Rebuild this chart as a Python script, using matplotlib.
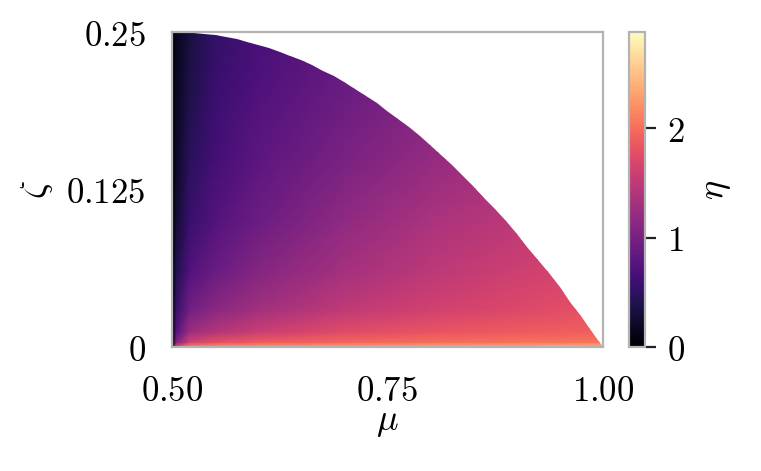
import numpy as np
import matplotlib
matplotlib.use("Agg")
import matplotlib.pyplot as plt
from matplotlib.patches import Polygon

plt.rcParams['mathtext.fontset'] = 'cm'
plt.rcParams['font.family'] = 'serif'
plt.rcParams['font.serif'] = ['DejaVu Serif']

# grid of eta values
mu = [0.5, 0.505, 0.52, 0.55, 0.6, 0.7, 0.8, 0.9, 1.0]
zeta = [0.0, 0.001, 0.004, 0.012, 0.03, 0.06, 0.1, 0.15, 0.2, 0.25]
eta = [
    [2.30, 2.35, 2.40, 2.40, 2.42, 2.45, 2.48, 2.52, 2.56],
    [0.00, 1.60, 2.05, 2.15, 2.20, 2.25, 2.30, 2.33, 2.36],
    [0.00, 1.05, 1.60, 1.78, 1.88, 1.95, 2.00, 2.02, 2.05],
    [0.00, 0.75, 1.25, 1.42, 1.58, 1.75, 1.83, 1.88, 1.92],
    [0.00, 0.55, 0.95, 1.13, 1.30, 1.50, 1.63, 1.72, 1.80],
    [0.00, 0.40, 0.72, 0.90, 1.10, 1.32, 1.48, 1.60, 1.68],
    [0.00, 0.28, 0.56, 0.75, 0.92, 1.17, 1.35, 1.48, 1.56],
    [0.00, 0.21, 0.45, 0.64, 0.80, 1.02, 1.20, 1.33, 1.42],
    [0.00, 0.17, 0.38, 0.58, 0.72, 0.92, 1.08, 1.20, 1.30],
    [0.00, 0.15, 0.33, 0.52, 0.66, 0.84, 1.00, 1.10, 1.20],
]
eta_max = 2.88

# upper edge of the filled region
edge_mu = [0.5, 0.5125, 0.525, 0.5375, 0.55, 0.5625, 0.575, 0.5875, 0.6, 0.6125,
           0.625, 0.6375, 0.65, 0.6625, 0.675, 0.6875, 0.7, 0.7125, 0.725, 0.7375,
           0.75, 0.7625, 0.775, 0.7875, 0.8, 0.8125, 0.825, 0.8375, 0.85, 0.8625,
           0.875, 0.8875, 0.9, 0.9125, 0.925, 0.9375, 0.95, 0.9625, 0.975, 0.9875, 1.0]
edge_zeta = [0.25, 0.2498, 0.2494, 0.2486, 0.2475, 0.2461, 0.2444, 0.2423, 0.24, 0.2373,
             0.2344, 0.2311, 0.2275, 0.2236, 0.2194, 0.2148, 0.21, 0.2048, 0.1994, 0.1936,
             0.1875, 0.1811, 0.1744, 0.1673, 0.16, 0.1523, 0.1444, 0.1361, 0.1275, 0.1186,
             0.1094, 0.0998, 0.09, 0.0798, 0.0694, 0.0586, 0.0475, 0.0361, 0.0244, 0.0123, 0.0]

fig = plt.figure(figsize=(3.805, 2.355), dpi=200)
ax = fig.add_axes([0.226, 0.263, 0.566, 0.669])
cax = fig.add_axes([0.8265, 0.263, 0.021, 0.669])

M, Z = np.meshgrid(mu, zeta)
mesh = ax.pcolormesh(M, Z, np.array(eta), shading='gouraud', cmap='magma',
                     vmin=0, vmax=eta_max, rasterized=True)
clip = Polygon(list(zip(edge_mu, edge_zeta)) + [(0.5, 0.0)], closed=True,
               transform=ax.transData, facecolor='none', edgecolor='none')
ax.add_patch(clip)
mesh.set_clip_path(clip)

ax.set_xlim(0.5, 1.0)
ax.set_ylim(0, 0.25)
ax.set_xticks([0.5, 0.75, 1.0])
ax.set_xticklabels(['$0.50$', '$0.75$', '$1.00$'])
ax.set_yticks([0, 0.125, 0.25])
ax.set_yticklabels(['$0$', '$0.125$', '$0.25$'])
ax.tick_params(length=0, labelsize=12.5, pad=9.5)
ax.set_xlabel(r'$\mu$', fontsize=13, labelpad=-1)
ax.set_ylabel(r'$\zeta$', fontsize=13, labelpad=4)
for s in ax.spines.values():
    s.set_color('#b3b3b3')
    s.set_linewidth(0.8)

cb = fig.colorbar(mesh, cax=cax)
cb.set_ticks([0, 1, 2])
cb.set_ticklabels(['$0$', '$1$', '$2$'])
cb.ax.tick_params(length=4, width=0.8, color='#222222', labelsize=12.5, pad=4)
cb.outline.set_edgecolor('#b3b3b3')
cb.outline.set_linewidth(0.8)
cb.set_label(r'$\eta$', fontsize=13, labelpad=5)

fig.savefig('out.png', dpi=200)
